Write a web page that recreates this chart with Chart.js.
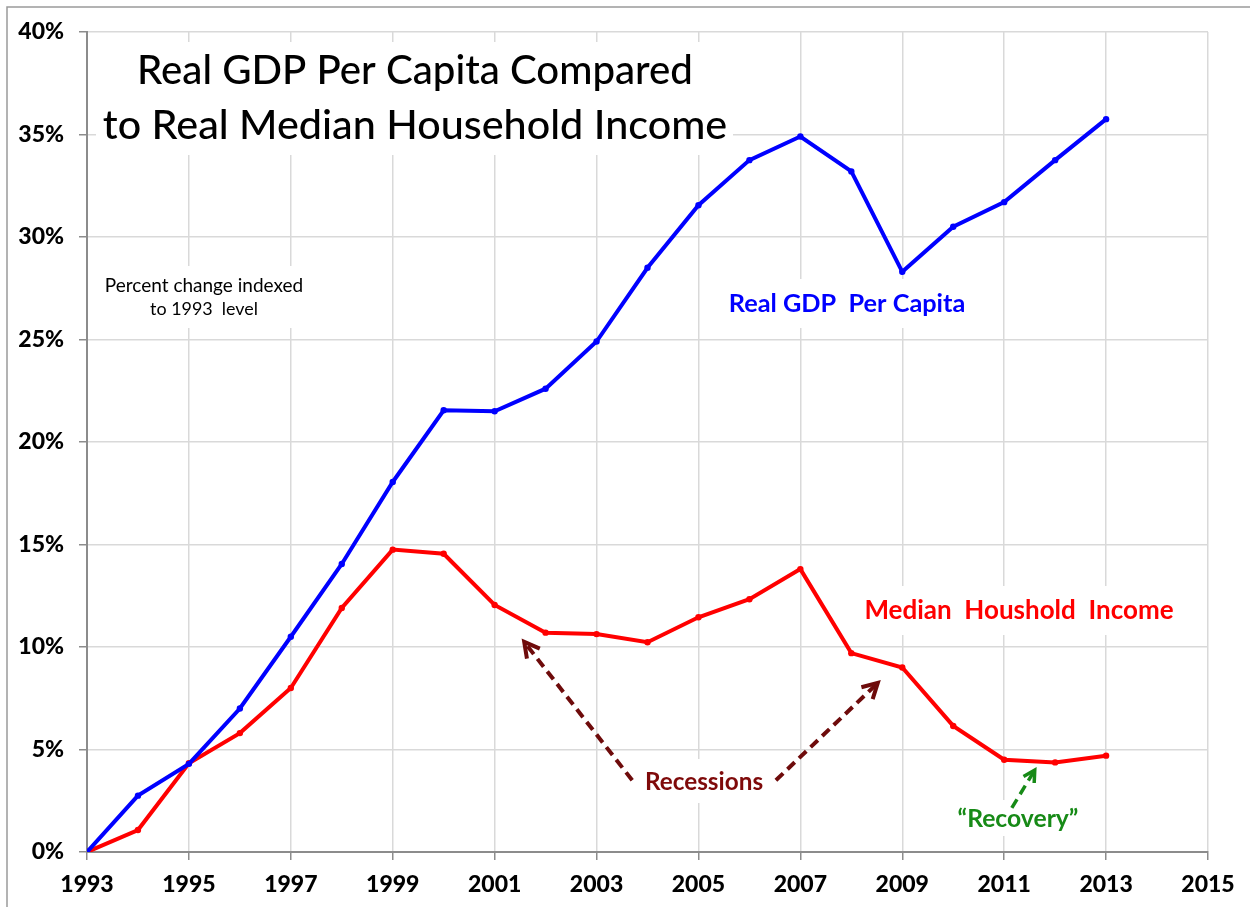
<!DOCTYPE html>
<html>
<head>
<meta charset="utf-8">
<script src="https://cdn.jsdelivr.net/npm/chart.js@4.4.0/dist/chart.umd.min.js"></script>
<style>
  body { margin: 0; background: #fff; }
  canvas { display: block; }
</style>
</head>
<body>
<canvas id="myChart" width="1250" height="907"></canvas>
<script>
const years = [1993, 1994, 1995, 1996, 1997, 1998, 1999, 2000, 2001, 2002, 2003,
  2004, 2005, 2006, 2007, 2008, 2009, 2010, 2011, 2012, 2013];
const gdpPerCapita = [0, 2.75, 4.3, 7.0, 10.5, 14.05, 18.05, 21.55, 21.5, 22.6, 24.9,
  28.5, 31.55, 33.75, 34.9, 33.2, 28.3, 30.5, 31.7, 33.75, 35.75];
const medianIncome = [0, 1.07, 4.33, 5.8, 8.0, 11.9, 14.75, 14.55, 12.05, 10.7, 10.63,
  10.23, 11.45, 12.33, 13.8, 9.7, 9.0, 6.15, 4.5, 4.37, 4.7];
const yearTicks = [1993, 2015];
const pctTicks = [0, 40];

const ctx = document.getElementById('myChart');
const FONT = 'Lato';

function fitText(c, text, cx, base, w, weight, color) {
  c.font = weight + ' 40px ' + FONT;
  const size = 40 * w / c.measureText(text).width;
  c.font = weight + ' ' + size.toFixed(1) + 'px ' + FONT;
  c.fillStyle = color;
  c.textAlign = 'center';
  c.textBaseline = 'alphabetic';
  c.fillText(text, cx, base);
}

function arrow(c, x1, y1, x2, y2, color, lw, head) {
  c.strokeStyle = color;
  c.lineWidth = lw;
  c.lineCap = 'butt';
  c.setLineDash([10, 6]);
  const a = Math.atan2(y2 - y1, x2 - x1);
  c.beginPath();
  c.moveTo(x1, y1);
  c.lineTo(x2 - 3 * Math.cos(a), y2 - 3 * Math.sin(a));
  c.stroke();
  c.setLineDash([]);
  c.lineJoin = 'miter';
  c.beginPath();
  c.moveTo(x2 - head * Math.cos(a - 0.5), y2 - head * Math.sin(a - 0.5));
  c.lineTo(x2, y2);
  c.lineTo(x2 - head * Math.cos(a + 0.5), y2 - head * Math.sin(a + 0.5));
  c.stroke();
}

const frame = {
  id: 'frame',
  beforeDraw(chart) {
    const c = chart.ctx;
    c.save();
    c.fillStyle = '#fff';
    c.fillRect(0, 0, chart.width, chart.height);
    c.strokeStyle = '#9a9a9a';
    c.lineWidth = 1.5;
    c.beginPath();
    c.moveTo(7, chart.height);
    c.lineTo(7, 7);
    c.lineTo(chart.width, 7);
    c.stroke();
    c.restore();
  }
};

const annotate = {
  id: 'annotate',
  beforeDatasetsDraw(chart) {
    const c = chart.ctx;
    const x = chart.scales.x, y = chart.scales.y;
    const px = v => x.getPixelForValue(v);
    const py = v => y.getPixelForValue(v);
    c.save();
    // white boxes behind the texts
    c.fillStyle = '#fff';
    [[96, 42, 637, 113], [100, 266, 208, 62], [720, 279, 256, 49],
     [855, 586, 330, 49], [637, 759, 134, 44], [950, 800, 136, 36]]
      .forEach(b => c.fillRect(b[0], b[1], b[2], b[3]));

    fitText(c, 'Real GDP Per Capita Compared', 415, 84, 556, '500', '#000');
    fitText(c, 'to Real Median Household Income', 415, 139, 624, '500', '#000');
    fitText(c, 'Percent change indexed', 204, 292, 198, 'normal', '#000');
    fitText(c, 'to 1993  level', 204, 315, 108, 'normal', '#000');
    fitText(c, 'Real GDP  Per Capita', 847, 312, 237, 'bold', '#0000ff');
    fitText(c, 'Median  Houshold  Income', 1019, 619, 309, 'bold', '#ff0000');
    fitText(c, 'Recessions', 704, 790, 118, 'bold', '#7f0a0a');
    fitText(c, '\u201cRecovery\u201d', 1018, 827, 121, 'bold', '#178a17');

    arrow(c, px(2003.7), py(3.5), px(2001.58), py(10.25), '#6e0b0b', 4, 17);
    arrow(c, px(2006.52), py(3.5), px(2008.52), py(8.25), '#6e0b0b', 4, 17);
    arrow(c, px(2011.15), py(2.15), px(2011.6), py(4.0), '#178a17', 3.5, 13);
    c.restore();
  }
};

function pairs(vals) {
  return years.map((yr, i) => ({ x: yr, y: vals[i] }));
}

new Chart(ctx, {
  type: 'line',
  data: {
    datasets: [{
      label: 'Real GDP Per Capita',
      data: pairs(gdpPerCapita),
      borderColor: '#0000ff',
      backgroundColor: '#0000ff',
      borderWidth: 4,
      pointRadius: 3.2,
      pointBorderWidth: 0
    }, {
      label: 'Median Houshold Income',
      data: pairs(medianIncome),
      borderColor: '#ff0000',
      backgroundColor: '#ff0000',
      borderWidth: 4,
      pointRadius: 3.2,
      pointBorderWidth: 0
    }]
  },
  options: {
    responsive: false,
    animation: false,
    devicePixelRatio: 1,
    layout: { padding: { top: 32, right: 42, left: 0, bottom: 0 } },
    plugins: {
      legend: { display: false },
      tooltip: { enabled: false }
    },
    scales: {
      x: {
        type: 'linear',
        min: yearTicks[0],
        max: yearTicks[1],
        ticks: {
          stepSize: 2,
          color: '#000',
          padding: 11,
          maxRotation: 0,
          font: { family: FONT, size: 23, weight: '900' },
          callback: v => String(v)
        },
        grid: { color: '#d9d9d9', lineWidth: 1.5, tickColor: '#8c8c8c', tickLength: 8 },
        border: { color: '#8c8c8c', width: 2 },
        afterFit: s => { s.height = 55; }
      },
      y: {
        min: pctTicks[0],
        max: pctTicks[1],
        ticks: {
          stepSize: 5,
          color: '#000',
          padding: 15,
          font: { family: FONT, size: 23, weight: '900' },
          callback: v => v + '%'
        },
        grid: { color: '#d9d9d9', lineWidth: 1.5, tickColor: '#8c8c8c', tickLength: 8 },
        border: { color: '#8c8c8c', width: 2 },
        afterFit: s => { s.width = 87; }
      }
    }
  },
  plugins: [frame, annotate]
});
</script>
</body>
</html>
